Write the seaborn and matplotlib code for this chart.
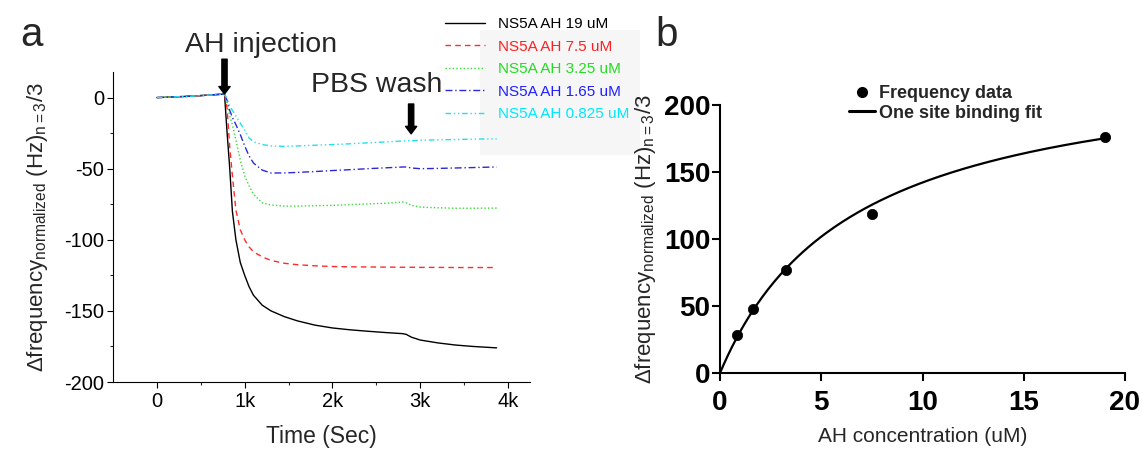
import numpy as np
import pandas as pd
import matplotlib
matplotlib.use("Agg")
import matplotlib.pyplot as plt
import seaborn as sns
from matplotlib import font_manager
from matplotlib.patches import Rectangle
from matplotlib.lines import Line2D

# ---------------- data (panel a) ----------------
time_s = [0, 400, 770, 800, 830, 860, 900, 950, 1000, 1050, 1100, 1200, 1300,
          1450, 1600, 1800, 2000, 2200, 2400, 2600, 2800, 2840, 2900, 3000,
          3200, 3400, 3600, 3870]
ns5a_19 = [0, 1, 2.5, -25, -50, -80, -100, -116, -125, -133, -139, -146, -150,
           -154, -157, -160, -162, -163.3, -164.3, -165.2, -166, -166.5, -168.5,
           -170.5, -172.5, -174, -175, -176]
ns5a_7_5 = [0, 1, 2.5, -8, -35, -55, -79, -93, -100, -105, -108.5, -112, -114.5,
            -116.5, -117.5, -118.3, -118.8, -119, -119.1, -119.2, -119.3, -119.3,
            -119.3, -119.4, -119.4, -119.5, -119.5, -119.5]
ns5a_3_25 = [0, 1, 2.5, -4, -13, -19, -30, -44, -55, -62, -68, -74, -75.5,
             -76.3, -76.3, -76, -75.8, -75.3, -74.8, -74.3, -73.5, -74, -75.8,
             -77, -77.5, -77.8, -77.8, -77.7]
ns5a_1_65 = [0, 1, 2.5, -2, -9, -14, -19, -26, -34, -41, -46, -51, -53,
             -53, -52.6, -52, -51.3, -50.7, -50, -49.4, -48.8, -48.8, -49.5,
             -50, -49.8, -49.5, -49.2, -48.8]
ns5a_0_825 = [0, 1, 2.5, -1, -6, -9, -13, -18, -23, -28.4, -31, -33, -34,
              -34.3, -34, -33.5, -33, -32.5, -31.8, -31.2, -30.5, -30.4, -30.3,
              -30, -29.7, -29.5, -29.2, -29]
series_labels = ["NS5A AH 19 uM", "NS5A AH 7.5 uM", "NS5A AH 3.25 uM",
                 "NS5A AH 1.65 uM", "NS5A AH 0.825 uM"]
xtick_vals = [0, 1000, 2000, 3000, 4000]
xtick_labels = ["0", "1k", "2k", "3k", "4k"]
ytick_vals_a = [0, -50, -100, -150, -200]

# ---------------- data (panel b) ----------------
conc_um = [0.825, 1.65, 3.25, 7.5, 19]
freq_shift = [28, 47.5, 77, 119, 176]
fit_bmax = 236.0   # one-site binding fit parameters
fit_kd = 6.6

# ---------------- style ----------------
sns.set_theme(style="ticks")
names = {f.name for f in font_manager.fontManager.ttflist}
base_font = "Liberation Sans" if "Liberation Sans" in names else "DejaVu Sans"
narrow_font = "Liberation Sans Narrow" if "Liberation Sans Narrow" in names else base_font
plt.rcParams["font.family"] = [base_font, "DejaVu Sans"]
plt.rcParams["axes.unicode_minus"] = False
plt.rcParams["mathtext.fontset"] = "custom"
plt.rcParams["mathtext.rm"] = base_font
plt.rcParams["mathtext.it"] = base_font + ":italic"
plt.rcParams["mathtext.bf"] = base_font + ":bold"

W, H = 1142, 453
fig = plt.figure(figsize=(W / 100, H / 100), dpi=100)
fig.patch.set_facecolor("white")

def fx(px):
    return px / W

def fy(py):
    return 1 - py / H

# faint gray background behind legend a
fig.add_artist(Rectangle((fx(480), fy(155)), fx(640) - fx(480), fy(30) - fy(155),
                         transform=fig.transFigure, facecolor="#f6f6f6",
                         edgecolor="none", zorder=-5))

# ---------------- panel a ----------------
ax = fig.add_axes([fx(113), fy(382), fx(530) - fx(113), fy(72) - fy(382)])
ax.patch.set_alpha(0)

colors = ["#000000", "#ff2a2a", "#33dd33", "#2a2ad8", "#22e0ee"]
text_colors = ["#000000", "#ff2020", "#22dd22", "#2020ff", "#00e8ff"]
styles = ["-", (0, (4, 3)), (0, (1, 1.6)), (0, (5, 2, 1, 2)), (0, (4, 2, 1, 2, 1, 2))]
all_series = [ns5a_19, ns5a_7_5, ns5a_3_25, ns5a_1_65, ns5a_0_825]
df = pd.DataFrame({"time": time_s})
for lab, vals in zip(series_labels, all_series):
    df[lab] = vals
for lab, col, ls in zip(series_labels, colors, styles):
    sns.lineplot(data=df, x="time", y=lab, ax=ax, color=col, linestyle=ls,
                 linewidth=1.0, label=lab, estimator=None, sort=False)

ax.set_xlim(-500, 4250)
ax.set_ylim(-200, 18)
ax.set_xticks(xtick_vals)
ax.set_xticklabels(xtick_labels)
ax.set_xticks([500, 1500, 2500, 3500], minor=True)
ax.set_yticks(ytick_vals_a)
ax.set_yticks([-25, -75, -125, -175], minor=True)
ax.tick_params(axis="both", which="major", direction="out", length=4.5, width=0.8,
               labelsize=14.5, pad=2, colors="black")
ax.tick_params(axis="x", which="major", pad=3)
ax.tick_params(axis="both", which="minor", direction="out", length=2.5, width=0.8)
for s in ["top", "right"]:
    ax.spines[s].set_visible(False)
for s in ["left", "bottom"]:
    ax.spines[s].set_linewidth(0.8)
    ax.spines[s].set_color("black")
ylab = r"$\Delta$frequency$_{\mathrm{normalized}}$ (Hz)$_{\mathrm{n{=}3}}$/3"
ax.set_ylabel(ylab, fontsize=16, labelpad=10)
ax.set_xlabel("Time (Sec)", fontsize=16.5, labelpad=10)

ax.legend(loc="upper left", bbox_to_anchor=(fx(445), fy(17)),
          bbox_transform=fig.transFigure, frameon=False, fontsize=11,
          handlelength=2.6, handletextpad=0.85, labelspacing=0.56,
          borderpad=0, borderaxespad=0, labelcolor=text_colors)

arrow_kw = dict(arrowstyle="simple,head_length=0.6,head_width=0.9,tail_width=0.42",
                color="black", mutation_scale=9, shrinkA=0, shrinkB=0)
ax.annotate("", xy=(770, 2.5), xytext=(770, 27), xycoords="data",
            textcoords="data", arrowprops=arrow_kw, annotation_clip=False)
ax.annotate("", xy=(2896, -25.5), xytext=(2896, -4.5), xycoords="data",
            textcoords="data", arrowprops=arrow_kw, annotation_clip=False)
fig.text(fx(261), fy(52), "AH injection", fontsize=20.5, ha="center", va="baseline")
fig.text(fx(377), fy(92), "PBS wash", fontsize=20.5, ha="center", va="baseline")
fig.text(fx(20), fy(46), "a", fontsize=29, ha="left", va="baseline")
fig.text(fx(655), fy(46), "b", fontsize=29, ha="left", va="baseline")

# ---------------- panel b ----------------
ax2 = fig.add_axes([fx(720), fy(373), fx(1125) - fx(720), fy(105) - fy(373)])
bx = np.linspace(0, max(conc_um), 200)
fit_df = pd.DataFrame({"conc": bx, "fit": fit_bmax * bx / (fit_kd + bx)})
pts_df = pd.DataFrame({"conc": conc_um, "freq": freq_shift})
sns.lineplot(data=fit_df, x="conc", y="fit", ax=ax2, color="black", linewidth=1.6,
             estimator=None, sort=False, legend=False)
sns.scatterplot(data=pts_df, x="conc", y="freq", ax=ax2, color="black", s=55,
                edgecolor="black", linewidth=0.5, legend=False, zorder=3, clip_on=False)
ax2.set_xlim(0, 20)
ax2.set_ylim(0, 200)
ax2.set_xticks([0, 5, 10, 15, 20])
ax2.set_yticks([0, 50, 100, 150, 200])
ax2.tick_params(axis="both", which="major", direction="out", length=6, width=1.5,
                colors="black")
ax2.tick_params(axis="x", pad=6)
ax2.tick_params(axis="y", pad=1)
for t in ax2.get_xticklabels() + ax2.get_yticklabels():
    t.set_fontfamily([narrow_font, base_font])
    t.set_fontweight("bold")
    t.set_fontsize(20)
for s in ["top", "right"]:
    ax2.spines[s].set_visible(False)
for s in ["left", "bottom"]:
    ax2.spines[s].set_linewidth(1.5)
    ax2.spines[s].set_color("black")
ax2.set_ylabel(ylab, fontsize=16, labelpad=4)
ax2.set_xlabel("AH concentration (uM)", fontsize=15, labelpad=8,
               fontfamily=[narrow_font, base_font])

h_pts = Line2D([], [], marker="o", linestyle="none", color="black", markersize=7)
h_fit = Line2D([], [], color="black", linewidth=2.2)
ax2.legend([h_pts, h_fit], ["Frequency data", "One site binding fit"],
           loc="upper left", bbox_to_anchor=(fx(849), fy(85)),
           bbox_transform=fig.transFigure, frameon=False,
           prop={"family": [narrow_font, base_font], "weight": "bold", "size": 13},
           handlelength=1.45, handletextpad=0.2, labelspacing=0.15,
           borderpad=0, borderaxespad=0)

fig.savefig("out.png", dpi=100)
